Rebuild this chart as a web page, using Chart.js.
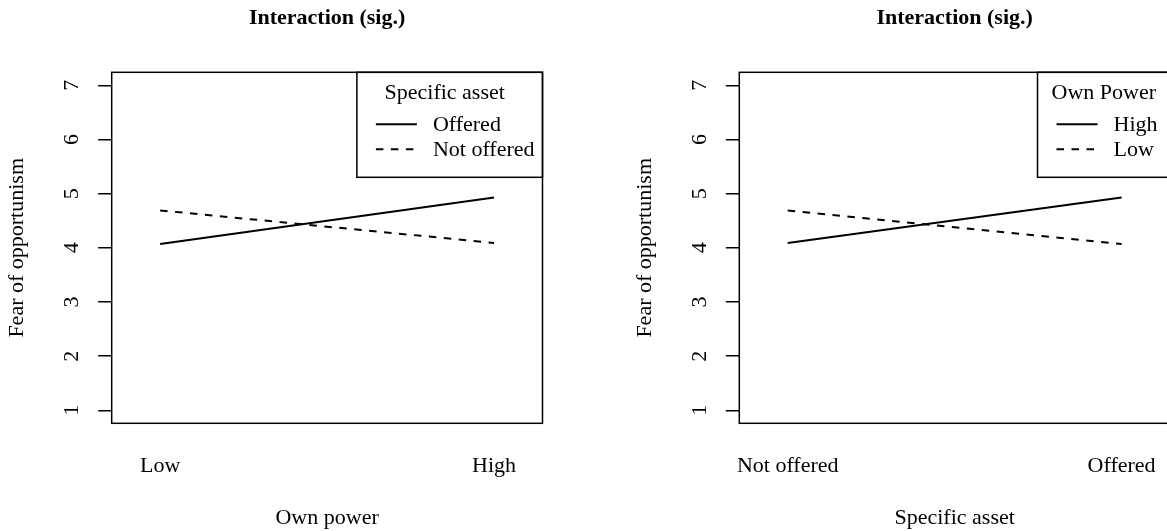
<!DOCTYPE html>
<html><head><meta charset="utf-8">
<script src="https://cdn.jsdelivr.net/npm/chart.js@4.4.1/dist/chart.umd.min.js"></script>
<style>
html,body{margin:0;padding:0;background:#fff;overflow:hidden;width:1167px;height:531px;position:relative;}
canvas{position:absolute;top:0;}
</style></head><body>
<canvas id="c1" width="583" height="531" style="left:0"></canvas>
<canvas id="c2" width="600" height="531" style="left:583px"></canvas>
<script>
// ---- data ----
const yTickValues = [1, 2, 3, 4, 5, 6, 7];
const powerLevels = ['Low', 'High'];
const assetLevels = ['Not offered', 'Offered'];
// Left panel: x = own power (Low, High), lines = specific asset
const offeredByPower = [4.07, 4.93];
const notOfferedByPower = [4.69, 4.09];
// Right panel: x = specific asset (Not offered, Offered), lines = own power
const highPowerByAsset = [4.09, 4.93];
const lowPowerByAsset = [4.69, 4.07];

const FAMILY = '"Liberation Serif", "Times New Roman", Times, serif';
const FS = 22;

const decor = {
  id: 'decor',
  afterDraw(chart, args, o) {
    const ctx = chart.ctx, a = chart.chartArea;
    ctx.save();
    // box
    ctx.strokeStyle = '#000'; ctx.lineWidth = 1.5; ctx.setLineDash([]);
    ctx.strokeRect(a.left, a.top, a.right - a.left, a.bottom - a.top);
    ctx.fillStyle = '#000';
    const cx = (a.left + a.right) / 2, cy = (a.top + a.bottom) / 2;
    // main title
    ctx.font = 'bold ' + FS + 'px ' + FAMILY;
    ctx.textAlign = 'center'; ctx.textBaseline = 'middle';
    ctx.fillText(o.title, cx, 18);
    // axis titles
    ctx.font = FS + 'px ' + FAMILY;
    ctx.fillText(o.xTitle, cx, a.bottom + 95);
    ctx.save();
    ctx.translate(a.left - 94.5, cy);
    ctx.rotate(-Math.PI / 2);
    ctx.fillText(o.yTitle, 0, 0);
    ctx.restore();
    // legend (top right, boxed)
    const labW = Math.max(...o.legend.map(l => ctx.measureText(l.label).width));
    const titW = ctx.measureText(o.legendTitle).width;
    const w = Math.max(75 + labW + 9, titW + 28);
    const h = 105;
    const lx = a.right - w, ly = a.top;
    ctx.lineWidth = 1.5;
    ctx.strokeRect(lx, ly, w, h);
    ctx.textAlign = 'center';
    ctx.fillText(o.legendTitle, lx + w / 2 + o.titleDx, ly + 21);
    ctx.textAlign = 'left';
    o.legend.forEach((l, i) => {
      const yy = ly + 52 + i * 25;
      ctx.beginPath();
      ctx.lineWidth = 2;
      ctx.setLineDash(l.dash);
      ctx.moveTo(lx + 19, yy); ctx.lineTo(lx + 60, yy);
      ctx.stroke();
      ctx.setLineDash([]);
      ctx.fillText(l.label, lx + 76, yy + 1);
    });
    ctx.restore();
  }
};

function makeChart(id, p) {
  return new Chart(document.getElementById(id), {
    type: 'line',
    data: {
      datasets: p.series.map(s => ({
        label: s.label,
        data: s.values.map((v, i) => ({ x: i + 1, y: v })),
        borderColor: '#000', borderWidth: 2, borderDash: s.dash,
        pointRadius: 0, fill: false, tension: 0
      }))
    },
    options: {
      responsive: false, animation: false, devicePixelRatio: 1,
      layout: { padding: { left: 0, right: p.padRight, top: 72.3, bottom: 0 } },
      plugins: {
        legend: { display: false }, tooltip: { enabled: false }, title: { display: false },
        decor: { title: p.title, xTitle: p.xTitle, yTitle: 'Fear of opportunism',
                 legendTitle: p.legendTitle, titleDx: p.titleDx,
                 legend: p.series.map(s => ({ label: s.label, dash: s.dash })) }
      },
      scales: {
        x: {
          type: 'linear', min: 0.855, max: 2.145,
          afterBuildTicks: s => { s.ticks = p.xLabels.map((l, i) => ({ value: i + 1 })); },
          ticks: { callback: v => p.xLabels[Math.round(v) - 1], color: '#000',
                   font: { family: FAMILY, size: FS }, padding: 0, maxRotation: 0, autoSkip: false },
          grid: { display: false, drawTicks: true, tickLength: 30 }, border: { display: false },
          afterFit: s => { s.height = 531 - 423.3; }
        },
        y: {
          min: 0.76, max: 7.24,
          afterBuildTicks: s => { s.ticks = yTickValues.map(v => ({ value: v })); },
          ticks: { color: '#000', font: { family: FAMILY, size: FS }, minRotation: 90, maxRotation: 90,
                   crossAlign: 'center', padding: 20 },
          grid: { drawOnChartArea: false, drawTicks: true, tickLength: 13.5, color: '#000', lineWidth: 1.5 },
          border: { display: false },
          afterFit: s => { s.width = p.yWidth; }
        }
      }
    },
    plugins: [decor]
  });
}

makeChart('c1', {
  title: 'Interaction (sig.)', xTitle: 'Own power', legendTitle: 'Specific asset', titleDx: -5,
  xLabels: powerLevels, yWidth: 111.7, padRight: 583 - 542.5,
  series: [
    { label: 'Offered', values: offeredByPower, dash: [] },
    { label: 'Not offered', values: notOfferedByPower, dash: [7.5, 7.5] }
  ]
});
makeChart('c2', {
  title: 'Interaction (sig.)', xTitle: 'Specific asset', legendTitle: 'Own Power', titleDx: 0,
  xLabels: assetLevels, yWidth: 739.3 - 583, padRight: 600 - 587,
  series: [
    { label: 'High', values: highPowerByAsset, dash: [] },
    { label: 'Low', values: lowPowerByAsset, dash: [7.5, 7.5] }
  ]
});
</script>
</body></html>
